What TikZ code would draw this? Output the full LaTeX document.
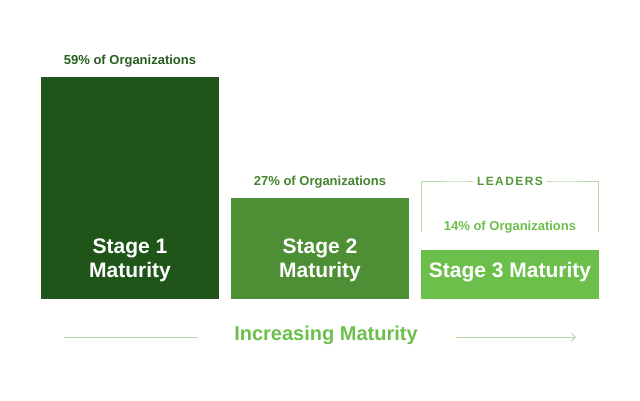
\documentclass[tikz,border=0pt]{standalone}
\usepackage{fontspec}
\setmainfont{Liberation Sans}
\usetikzlibrary{arrows.meta}
\definecolor{gOne}{HTML}{1F5519}
\definecolor{gTwo}{HTML}{4E8F35}
\definecolor{gThree}{HTML}{6CBF4B}
\definecolor{gLine}{HTML}{B4DCA6}
\begin{document}
\begin{tikzpicture}[x=1pt,y=-1pt]

\tikzstyle{barstyle} = [inner sep=0,outer sep=0,anchor=north west,text=white,font={\fontsize{21}{24}\selectfont\bfseries},align=center]
\tikzstyle{pctstyle} = [font={\fontsize{13}{15}\selectfont\bfseries}]
\tikzstyle{thin_line} = [draw=gLine, line width=1pt]

\useasboundingbox (0,0) rectangle (640,400);

\node [barstyle,fill=gOne,minimum width=178,minimum height=222] (b1) at (41,77) {};
\node [barstyle,fill=gTwo,minimum width=178,minimum height=101] (b2) at (231,198) {};
\node [barstyle,fill=gThree,minimum width=178,minimum height=49] (b3) at (421,250) {};

\node [barstyle,anchor=center] (t1) at (130,260) {Stage 1\\Maturity};
\node [barstyle,anchor=center] (t2) at (320,260) {Stage 2\\Maturity};
\node [barstyle,anchor=center] (t3) at (510,272) {Stage 3 Maturity};

\node [pctstyle,text=gOne!85!gTwo] (p1) at (130,61) {59\% of Organizations};
\node [pctstyle,text=gTwo!80!gOne] (p2) at (320,182) {27\% of Organizations};
\node [pctstyle,text=gThree] (p3) at (510,227) {14\% of Organizations};

\node [font={\fontsize{12}{14}\selectfont\bfseries\addfontfeature{LetterSpace=12}},text=gTwo!80!gThree] (lead) at (510,181) {LEADERS};
\draw [thin_line] (lead.west) -- ++(-10,0) -| (421,232);
\draw [thin_line] (lead.east) -- ++(10,0) -| (598,232);

\node [font={\fontsize{20}{24}\selectfont\bfseries},text=gThree] (inc) at (326,335) {Increasing Maturity};
\coordinate (al) at (64,337);
\coordinate (ar) at (576,337);
\draw [thin_line] (al) -- (198,337);
\draw [thin_line,-{Straight Barb[length=4pt,width=8pt]}] (456,337) -- (ar);
\end{tikzpicture}
\end{document}
